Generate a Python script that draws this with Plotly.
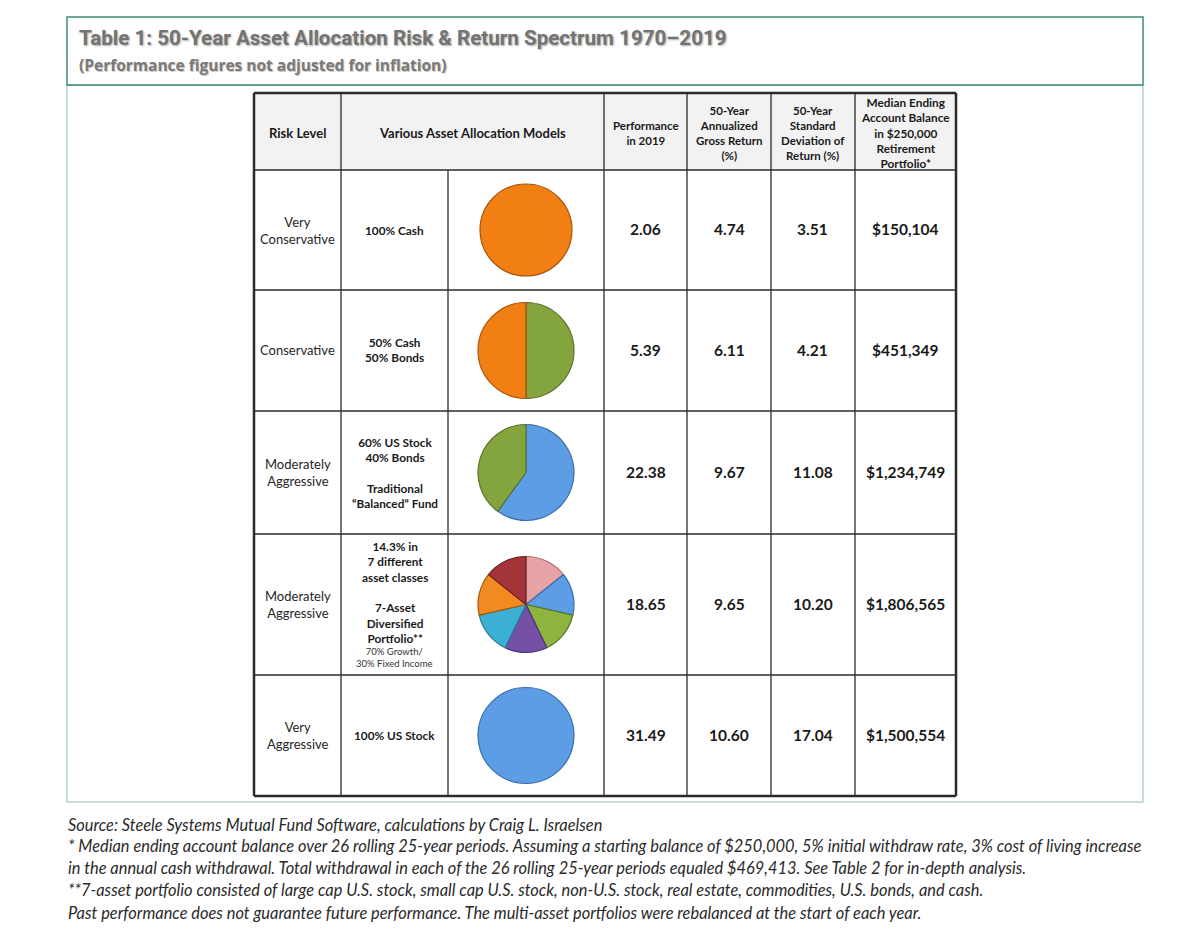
import plotly.graph_objects as go

# ---------------- data ----------------
title_text = "Table 1: 50-Year Asset Allocation Risk &amp; Return Spectrum 1970\u20132019"
subtitle_text = "(Performance figures not adjusted for inflation)"

header_labels = [
    "Risk Level",
    "Various Asset Allocation Models",
    "Performance<br>in 2019",
    "50-Year<br>Annualized<br>Gross Return<br>(%)",
    "50-Year<br>Standard<br>Deviation of<br>Return (%)",
    "Median Ending<br>Account Balance<br>in $250,000<br>Retirement<br>Portfolio*",
]

risk_levels = ["Very<br>Conservative", "Conservative", "Moderately<br>Aggressive",
               "Moderately<br>Aggressive", "Very<br>Aggressive"]

model_labels = ["100% Cash", "50% Cash<br>50% Bonds",
                "60% US Stock<br>40% Bonds<br><br>Traditional<br>\u201cBalanced\u201d Fund",
                "14.3% in<br>7 different<br>asset classes<br><br>7-Asset<br>Diversified<br>Portfolio**",
                "100% US Stock"]
model_notes = ["", "", "", "70% Growth/<br>30% Fixed Income", ""]

perf_2019 = [2.06, 5.39, 22.38, 18.65, 31.49]
annualized_return = [4.74, 6.11, 9.67, 9.65, 10.60]
std_dev = [3.51, 4.21, 11.08, 10.20, 17.04]
ending_balance = [150104, 451349, 1234749, 1806565, 1500554]

pie_labels = [
    ["Cash"],
    ["Bonds", "Cash"],
    ["US Stock", "Bonds"],
    ["Asset 1", "Asset 2", "Asset 3", "Asset 4", "Asset 5", "Asset 6", "Asset 7"],
    ["US Stock"],
]
pie_values = [
    [100],
    [50, 50],
    [60, 40],
    [14.3, 14.3, 14.3, 14.3, 14.3, 14.3, 14.3],
    [100],
]
pie_colors = [
    ["#F27F14"],
    ["#84A43E", "#F27F14"],
    ["#5C9DE6", "#84A43E"],
    ["#E8A3A6", "#5C9DE6", "#8DB43E", "#7450A6", "#3BAFD4", "#F28A22", "#A3343A"],
    ["#5C9DE6"],
]
pie_edges = [
    ["#A8560A"],
    ["#5A7228", "#A8560A"],
    ["#3A6FAA", "#5A7228"],
    ["#B07070", "#3A6FAA", "#5A7228", "#4E3478", "#2A7C98", "#A8560A", "#6E2024"],
    ["#3A6FAA"],
]

footnotes = [
    "Source: Steele Systems Mutual Fund Software, calculations by Craig L. Israelsen",
    "* Median ending account balance over 26 rolling 25-year periods. Assuming a starting balance of $250,000, 5% initial withdraw rate, 3% cost of living increase",
    "in the annual cash withdrawal. Total withdrawal in each of the 26 rolling 25-year periods equaled $469,413. See Table 2 for in-depth analysis.",
    "**7-asset portfolio consisted of large cap U.S. stock, small cap U.S. stock, non-U.S. stock, real estate, commodities, U.S. bonds, and cash.",
    "Past performance does not guarantee future performance. The multi-asset portfolios were rebalanced at the start of each year.",
]

# ---------------- layout geometry (page pixels) ----------------
W, H = 1200, 933
OFF = 8  # default page body margin around the plot div
col_edges = [254, 341, 448, 604, 687, 771, 855, 956]
row_edges = [93, 170, 290, 411, 534, 675, 796]


def X(px):
    return (px - OFF) / W


def Y(py):
    return 1 - (py - OFF) / H


TABLE_FONT = "Lato, 'Open Sans', sans-serif"
TXT = "#1a1a1a"

fig = go.Figure()
shapes = []
annotations = []

# Outer boxes
shapes.append(dict(type="rect", xref="paper", yref="paper", x0=X(67), x1=X(1143), y0=Y(85), y1=Y(802),
                   line=dict(color="#B9D3CA", width=1.5), fillcolor="rgba(0,0,0,0)", layer="below"))
shapes.append(dict(type="rect", xref="paper", yref="paper", x0=X(67), x1=X(1143), y0=Y(17), y1=Y(85),
                   line=dict(color="#3F8F6E", width=1.5), fillcolor="rgba(0,0,0,0)", layer="below"))

# header background
shapes.append(dict(type="rect", xref="paper", yref="paper", x0=X(col_edges[0]), x1=X(col_edges[-1]),
                   y0=Y(row_edges[0]), y1=Y(row_edges[1]), line=dict(width=0), fillcolor="#F2F2F2",
                   layer="below"))

LINE = "#2b2b2b"
# horizontal lines
for i, ry in enumerate(row_edges):
    w = 2.5 if i in (0, len(row_edges) - 1) else 1.6
    shapes.append(dict(type="line", xref="paper", yref="paper", x0=X(col_edges[0]), x1=X(col_edges[-1]),
                       y0=Y(ry), y1=Y(ry), line=dict(color=LINE, width=w)))
# vertical lines
for j, cx in enumerate(col_edges):
    w = 2.5 if j in (0, len(col_edges) - 1) else 1.3
    top = row_edges[1] if j == 2 else row_edges[0]
    shapes.append(dict(type="line", xref="paper", yref="paper", x0=X(cx), x1=X(cx),
                       y0=Y(top), y1=Y(row_edges[-1]), line=dict(color=LINE, width=w)))


def add_text(text, xpx, ypx, size, bold=False, color=TXT, family=TABLE_FONT, xanchor="center",
             italic=False):
    annotations.append(dict(
        text=text, xref="paper", yref="paper", x=X(xpx), y=Y(ypx), xanchor=xanchor, yanchor="middle",
        showarrow=False, align="center" if xanchor == "center" else "left",
        font=dict(family=family, size=size, color=color, weight="bold" if bold else "normal",
                  style="italic" if italic else "normal")))


# header texts
hy = (row_edges[0] + row_edges[1]) / 2
header_x = [(col_edges[0] + col_edges[1]) / 2, (col_edges[1] + col_edges[3]) / 2] + \
           [(col_edges[k] + col_edges[k + 1]) / 2 for k in range(3, 7)]
header_sizes = [13, 13, 11.5, 11.5, 11.5, 11.8]
for txt, hx, hs in zip(header_labels, header_x, header_sizes):
    add_text(txt, hx, hy + 1, hs, bold=True)

# body
for i in range(5):
    cy = (row_edges[i + 1] + row_edges[i + 2]) / 2
    add_text(risk_levels[i], (col_edges[0] + col_edges[1]) / 2, cy, 13, color="#262626")
    mx = (col_edges[1] + col_edges[2]) / 2
    if model_notes[i]:
        add_text(model_labels[i], mx, cy - 12, 11.8, bold=True)
        add_text(model_notes[i], mx, cy + 53, 9.5, color="#333333")
    else:
        add_text(model_labels[i], mx, cy, 11.8, bold=True)
    vals = [f"{perf_2019[i]:.2f}", f"{annualized_return[i]:.2f}", f"{std_dev[i]:.2f}",
            f"${ending_balance[i]:,}"]
    for k, v in enumerate(vals):
        add_text(v, (col_edges[3 + k] + col_edges[4 + k]) / 2, cy - 1, 15.5, bold=True)

    # pie
    pcx = (col_edges[2] + col_edges[3]) / 2
    r = 48 if i != 0 else 46
    fig.add_trace(go.Pie(
        labels=pie_labels[i], values=pie_values[i], sort=False, direction="clockwise", rotation=0,
        marker=dict(colors=pie_colors[i], line=dict(color=pie_edges[i], width=1.2)),
        textinfo="none", hoverinfo="label+percent", showlegend=False,
        domain=dict(x=[X(pcx - r), X(pcx + r)], y=[Y(cy + r), Y(cy - r)]),
    ))

# title
add_text(title_text, 77, 38, 20.6, bold=True, color="#737373", family="Roboto, sans-serif", xanchor="left")
annotations[-1]["font"]["shadow"] = "1px 1px 2px rgba(0,0,0,0.35)"
add_text(subtitle_text, 77, 65, 15.5, bold=True, color="#7a7a7a", family="'Open Sans', sans-serif",
         xanchor="left")
annotations[-1]["font"]["shadow"] = "1px 1px 1px rgba(0,0,0,0.25)"

# footnotes
foot_y = [824, 845, 867, 889, 912]
for t, fy in zip(footnotes, foot_y):
    add_text(t, 66, fy, 16.4, color="#2a2a2a", family="Lato, sans-serif", xanchor="left", italic=True)

fig.update_layout(
    width=W, height=H, margin=dict(l=0, r=0, t=0, b=0),
    paper_bgcolor="white", plot_bgcolor="white",
    shapes=shapes, annotations=annotations,
)

fig.write_html("out.html")
